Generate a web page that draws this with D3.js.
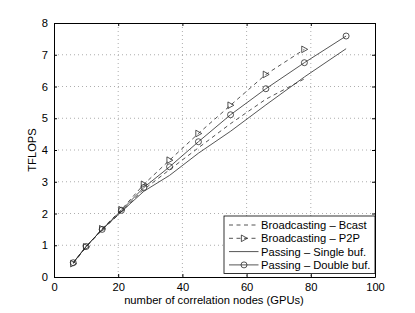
<!DOCTYPE html>
<html>
<head>
<meta charset="utf-8">
<script src="https://cdn.jsdelivr.net/npm/d3@7"></script>
<style>
  body { margin: 0; background: #fff; }
  svg { display: block; font-family: "Liberation Sans", Arial, sans-serif; }
</style>
</head>
<body>
<svg id="chart" width="415" height="313"></svg>
<script>
// data
const nodes = [6, 10, 15, 21, 28, 36, 45, 55, 66, 78, 91]
const bcast = [0.45, 0.95, 1.48, 2.05, 2.76, 3.38, 4.07, 4.83, 5.6, 6.24]
const p2p = [0.42, 0.95, 1.52, 2.12, 2.92, 3.68, 4.52, 5.41, 6.38, 7.17]
const singleBuf = [0.45, 0.96, 1.5, 2.06, 2.7, 3.2, 3.9, 4.59, 5.42, 6.3, 7.19]
const doubleBuf = [0.45, 0.96, 1.5, 2.1, 2.82, 3.47, 4.26, 5.11, 5.93, 6.75, 7.59]
const xTicks = [0, 20, 40, 60, 80, 100]
const yTicks = [0, 1, 2, 3, 4, 5, 6, 7, 8]

const series = [
  { name: 'Broadcasting \u2013 Bcast', values: bcast, dash: '4,3.5', marker: null },
  { name: 'Broadcasting \u2013 P2P', values: p2p, dash: '4,3.5', marker: 'tri' },
  { name: 'Passing \u2013 Single buf.', values: singleBuf, dash: null, marker: null },
  { name: 'Passing \u2013 Double buf.', values: doubleBuf, dash: null, marker: 'circle' }
]

const svg = d3.select('#chart')
const plotLeft = 54, plotRight = 375, plotTop = 23, plotBottom = 277
const lineColor = '#2a2a2a'
const fontSize = '11.2px'

const xScale = d3.scaleLinear().domain([0, 100]).range([plotLeft, plotRight])
const yScale = d3.scaleLinear().domain([0, 8]).range([plotBottom, plotTop])

// dotted grid
svg.append('g')
  .selectAll('line')
  .data(xTicks.slice(1, -1))
  .enter().append('line')
  .attr('x1', d => xScale(d)).attr('x2', d => xScale(d))
  .attr('y1', plotTop).attr('y2', plotBottom)
  .attr('stroke', '#999').attr('stroke-width', 0.8).attr('stroke-dasharray', '1,3')
svg.append('g')
  .selectAll('line')
  .data(yTicks.slice(1, -1))
  .enter().append('line')
  .attr('x1', plotLeft).attr('x2', plotRight)
  .attr('y1', d => yScale(d)).attr('y2', d => yScale(d))
  .attr('stroke', '#999').attr('stroke-width', 0.8).attr('stroke-dasharray', '1,3')

// axes, ticks pointing inward on all four sides
const axisStyle = g => {
  g.select('.domain').attr('stroke', '#000').attr('stroke-width', 1)
  g.selectAll('.tick line').attr('stroke', '#000')
  g.selectAll('.tick text').attr('fill', '#000').style('font-size', fontSize)
}
svg.append('g')
  .attr('transform', `translate(0,${plotBottom})`)
  .call(d3.axisBottom(xScale).tickValues(xTicks).tickSizeInner(-3).tickSizeOuter(0).tickPadding(6))
  .call(axisStyle)
svg.append('g')
  .attr('transform', `translate(${plotLeft},0)`)
  .call(d3.axisLeft(yScale).tickValues(yTicks).tickSizeInner(-3).tickSizeOuter(0).tickPadding(6))
  .call(axisStyle)
svg.append('g')
  .attr('transform', `translate(0,${plotTop})`)
  .call(d3.axisTop(xScale).tickValues(xTicks).tickSizeInner(-3).tickSizeOuter(0).tickFormat(''))
  .call(axisStyle)
svg.append('g')
  .attr('transform', `translate(${plotRight},0)`)
  .call(d3.axisRight(yScale).tickValues(yTicks).tickSizeInner(-3).tickSizeOuter(0).tickFormat(''))
  .call(axisStyle)

// axis titles
svg.append('text')
  .attr('x', 214).attr('y', 304)
  .attr('text-anchor', 'middle').style('font-size', fontSize)
  .text('number of correlation nodes (GPUs)')
svg.append('text')
  .attr('transform', `translate(36,${(plotTop + plotBottom) / 2}) rotate(-90)`)
  .attr('text-anchor', 'middle').style('font-size', fontSize)
  .text('TFLOPS')

const triPath = (cx, cy, s) => `M${cx + s},${cy} L${cx - s * 0.8},${cy - s} L${cx - s * 0.8},${cy + s} Z`

const drawMarker = (g, type, cx, cy) => {
  if (type === 'circle') {
    g.append('circle').attr('cx', cx).attr('cy', cy).attr('r', 3)
      .attr('fill', 'none').attr('stroke', lineColor).attr('stroke-width', 0.8)
  } else if (type === 'tri') {
    g.append('path').attr('d', triPath(cx, cy, 3.3))
      .attr('fill', 'none').attr('stroke', lineColor).attr('stroke-width', 0.8)
  }
}

const line = d3.line().x(d => xScale(d[0])).y(d => yScale(d[1]))

series.forEach(s => {
  const pts = s.values.map((v, i) => [nodes[i], v])
  const g = svg.append('g')
  g.append('path')
    .attr('d', line(pts))
    .attr('fill', 'none')
    .attr('stroke', lineColor)
    .attr('stroke-width', 0.8)
    .attr('stroke-dasharray', s.dash)
  if (s.marker) pts.forEach(p => drawMarker(g, s.marker, xScale(p[0]), yScale(p[1])))
})

// legend
const lg = svg.append('g')
lg.append('rect')
  .attr('x', 224).attr('y', 216).attr('width', 151).attr('height', 57.5)
  .attr('fill', '#fff').attr('stroke', '#000').attr('stroke-width', 0.8)
series.forEach((s, i) => {
  const y = 225 + i * 13.3
  lg.append('line')
    .attr('x1', 229).attr('x2', 258.5).attr('y1', y).attr('y2', y)
    .attr('stroke', lineColor).attr('stroke-width', 0.8)
    .attr('stroke-dasharray', s.dash)
  if (s.marker) drawMarker(lg, s.marker, 244, y)
  lg.append('text')
    .attr('x', 261).attr('y', y).attr('dy', '0.36em')
    .style('font-size', fontSize)
    .text(s.name)
})
</script>
</body>
</html>
